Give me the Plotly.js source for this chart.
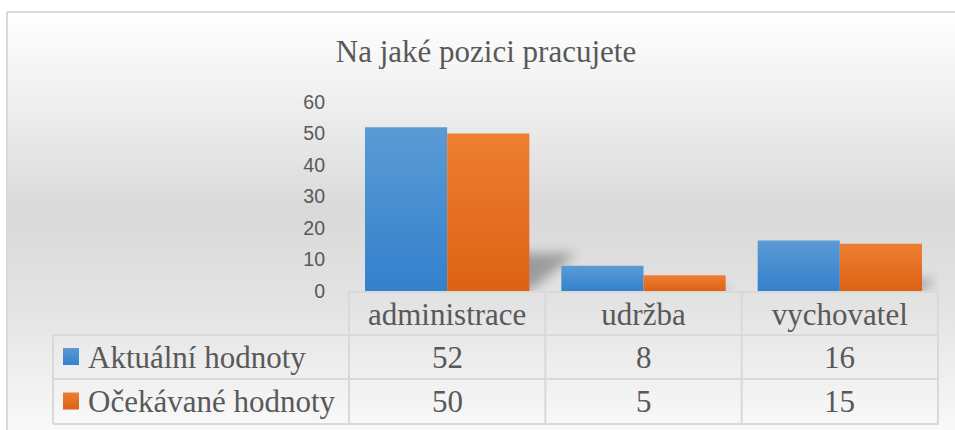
<!DOCTYPE html>
<html><head><meta charset="utf-8">
<script src="https://cdn.plot.ly/plotly-3.0.1.min.js"></script>
<style>html,body{margin:0;padding:0;background:#fff;}#chart{width:955px;height:430px;}</style>
</head><body><div id="chart"></div>
<script>
// ---- data ----
const categories = ['administrace', 'udržba', 'vychovatel'];
const seriesNames = ['Aktuální hodnoty', 'Očekávané hodnoty'];
const actualValues = [52, 8, 16];
const expectedValues = [50, 5, 15];
const yTickValues = [0, 10, 20, 30, 40, 50, 60];
const chartTitle = 'Na jaké pozici pracujete';

// ---- geometry / styles ----
const W = 955, H = 430, L = 348, R = 16, T = 102, B = 139;
const PW = W - L - R, PH = H - T - B, bottomPx = H - B;
const px = x => (x - L) / PW;
const py = y => (bottomPx - y) / PH;
const serif = 'Liberation Serif';
const sans = 'Liberation Sans';
const textColor = '#595959';
const lineColor = '#d9d9d9';
const barColors = ['#4a8fd3', '#e5701f'];
const gradStops = [['#5b9bd5', '#3380cc'], ['#ee7e32', '#dc6214']];
const seriesValues = [actualValues, expectedValues];

const traces = seriesValues.map((vals, i) => ({
  type: 'bar', x: categories, y: vals, name: seriesNames[i],
  marker: {color: barColors[i], line: {width: 0}}
}));

const rowsPx = [[292, 335], [335, 379], [379, 424]];
const tableLeftPx = 53;
const shapes = [];
const ln = {color: lineColor, width: 2};
shapes.push({type: 'line', xref: 'x', yref: 'paper', x0: -0.5, x1: categories.length - 0.5, y0: py(rowsPx[0][0]), y1: py(rowsPx[0][0]), line: ln});
[rowsPx[1][0], rowsPx[2][0], rowsPx[2][1]].forEach(y => {
  shapes.push({type: 'line', xref: 'paper', yref: 'paper', x0: px(tableLeftPx), x1: 1, y0: py(y), y1: py(y), line: ln});
});
for (let k = 0; k <= categories.length; k++) {
  shapes.push({type: 'line', xref: 'x', yref: 'paper', x0: k - 0.5, x1: k - 0.5, y0: py(rowsPx[0][0]), y1: py(rowsPx[2][1]), line: ln});
}
shapes.push({type: 'line', xref: 'paper', yref: 'paper', x0: px(tableLeftPx), x1: px(tableLeftPx), y0: py(rowsPx[1][0]), y1: py(rowsPx[2][1]), line: ln});
shapes.push({type: 'line', xref: 'paper', yref: 'paper', x0: px(7), x1: px(W + 5), y0: py(12), y1: py(12), line: {color: '#d9d9d9', width: 2}});
shapes.push({type: 'line', xref: 'paper', yref: 'paper', x0: px(7), x1: px(7), y0: py(12), y1: py(H + 5), line: {color: '#d9d9d9', width: 2}});

const annotations = [];
seriesValues.forEach((vals, s) => {
  const r = rowsPx[s + 1];
  const cy = (r[0] + r[1]) / 2;
  shapes.push({type: 'rect', xref: 'paper', yref: 'paper', x0: px(63), x1: px(79), y0: py(cy - 9), y1: py(cy + 8), fillcolor: barColors[s], line: {width: 0}});
  annotations.push({xref: 'paper', yref: 'paper', x: px(86), y: py(cy), xanchor: 'left', yanchor: 'middle', showarrow: false,
    text: seriesNames[s], font: {family: serif, size: 31, color: textColor}});
  vals.forEach((v, i) => {
    annotations.push({xref: 'x', yref: 'paper', x: categories[i], y: py(cy), xanchor: 'center', yanchor: 'middle', showarrow: false,
      text: String(v), font: {family: serif, size: 31, color: textColor}});
  });
});

const bgSvg = "<svg xmlns='http://www.w3.org/2000/svg' viewBox='0 0 100 100' preserveAspectRatio='none'><defs><linearGradient id='g' x1='0' y1='0' x2='0' y2='1'>" +
  "<stop offset='0' stop-color='#ffffff'/><stop offset='0.2' stop-color='#f0f0f0'/><stop offset='0.47' stop-color='#d9d9d9'/>" +
  "<stop offset='0.7' stop-color='#e4e4e4'/><stop offset='1' stop-color='#fbfbfb'/></linearGradient></defs>" +
  "<rect width='100' height='100' fill='url(#g)'/></svg>";

const layout = {
  width: W, height: H,
  margin: {l: L, r: R, t: T, b: B, pad: 0},
  paper_bgcolor: '#ffffff', plot_bgcolor: 'rgba(0,0,0,0)',
  showlegend: false,
  barmode: 'group', bargap: 0.163, bargroupgap: 0,
  title: {text: chartTitle, font: {family: serif, size: 31, color: textColor},
    xref: 'container', yref: 'container', x: 486 / W, y: 1 - 51 / H, xanchor: 'center', yanchor: 'middle'},
  xaxis: {type: 'category', showgrid: false, zeroline: false, showline: false, ticks: '',
    tickfont: {family: serif, size: 31, color: textColor}, ticklabelstandoff: 2},
  yaxis: {range: [0, 60], tickvals: yTickValues, showgrid: false, zeroline: false, showline: false, ticks: '',
    tickfont: {family: sans, size: 19.5, color: textColor}, ticklabelstandoff: 22},
  shapes: shapes,
  annotations: annotations,
  images: [{source: 'data:image/svg+xml;charset=utf-8,' + encodeURIComponent(bgSvg), xref: 'paper', yref: 'paper',
    x: px(7), y: py(12), sizex: (W + 10 - 7) / PW, sizey: (H + 10 - 12) / PH, sizing: 'stretch', xanchor: 'left', yanchor: 'top', layer: 'below'}]
};

function styleChart(gd) {
  const NS = 'http://www.w3.org/2000/svg';
  const svg = gd.querySelector('.main-svg');
  let defs = svg.querySelector('defs');
  if (!defs) { defs = document.createElementNS(NS, 'defs'); svg.insertBefore(defs, svg.firstChild); }
  gradStops.forEach((st, i) => {
    const lg = document.createElementNS(NS, 'linearGradient');
    lg.setAttribute('id', 'barGrad' + i);
    lg.setAttribute('x1', '0'); lg.setAttribute('y1', '0'); lg.setAttribute('x2', '0'); lg.setAttribute('y2', '1');
    st.forEach((c, k) => {
      const s = document.createElementNS(NS, 'stop');
      s.setAttribute('offset', String(k)); s.setAttribute('stop-color', c);
      lg.appendChild(s);
    });
    defs.appendChild(lg);
  });
  const flt = document.createElementNS(NS, 'filter');
  flt.setAttribute('id', 'barShadowBlur');
  flt.setAttribute('x', '-50%'); flt.setAttribute('y', '-50%'); flt.setAttribute('width', '200%'); flt.setAttribute('height', '200%');
  const gb = document.createElementNS(NS, 'feGaussianBlur');
  gb.setAttribute('stdDeviation', '6');
  flt.appendChild(gb);
  defs.appendChild(flt);

  const barlayer = gd.querySelector('.barlayer');
  const yb = gd._fullLayout.yaxis.c2p(0);
  const k = 0.3, s = 0.24;
  if (barlayer) {
    const shadowG = document.createElementNS(NS, 'g');
    shadowG.setAttribute('filter', 'url(#barShadowBlur)');
    shadowG.setAttribute('opacity', '0.3');
    const allTr = barlayer.querySelectorAll('.trace');
    const lt = allTr[allTr.length - 1];
    if (lt) {
      lt.querySelectorAll('path').forEach(p => {
        const c = p.cloneNode(true);
        c.removeAttribute('style');
        c.setAttribute('fill', '#000');
        c.setAttribute('transform', 'matrix(1,0,' + (-k) + ',' + s + ',' + (k * yb) + ',' + ((1 - s) * yb) + ')');
        shadowG.appendChild(c);
      });
      const tr0 = lt.getAttribute('transform');
      if (tr0) shadowG.setAttribute('transform', tr0);
    }
    barlayer.insertBefore(shadowG, barlayer.firstChild);
  }
  gd.querySelectorAll('.barlayer .trace').forEach((tr, i) => {
    tr.querySelectorAll('path').forEach(p => { p.style.fill = 'url(#barGrad' + i + ')'; });
  });
  const toRgb = h => 'rgb(' + [1, 3, 5].map(j => parseInt(h.substr(j, 2), 16)).join(', ') + ')';
  gd.querySelectorAll('.shapelayer path').forEach(p => {
    const f = p.style.fill;
    barColors.forEach((c, i) => { if (f === toRgb(c)) p.style.fill = 'url(#barGrad' + i + ')'; });
  });
}

Plotly.newPlot('chart', traces, layout, {staticPlot: true}).then(styleChart);
</script>
</body></html>
